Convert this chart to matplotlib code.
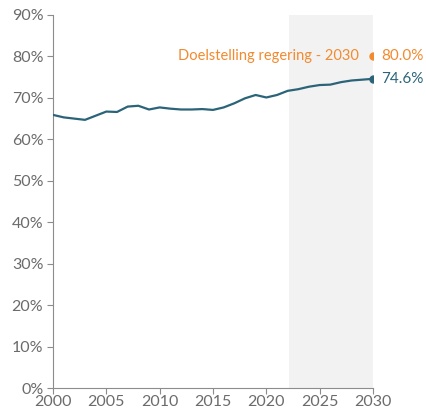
import matplotlib
matplotlib.use("Agg")
import matplotlib.pyplot as plt
from matplotlib.ticker import PercentFormatter

years = list(range(2000, 2031))
rate = [65.9, 65.3, 65.0, 64.7, 65.7, 66.7, 66.6, 67.9, 68.1, 67.2,
        67.7, 67.4, 67.2, 67.2, 67.3, 67.1, 67.7, 68.7, 69.9, 70.7,
        70.1, 70.7, 71.7, 72.1, 72.7, 73.1, 73.2, 73.8, 74.2, 74.4, 74.6]
target_year = 2030
target_value = 80.0
target_label = "Doelstelling regering - 2030"
forecast_start = 2022.1

LINE = "#2b6479"
ORANGE = "#f28a2e"
GREY = "#6b6b6b"

plt.rcParams["font.family"] = ["Lato", "DejaVu Sans"]

fig = plt.figure(figsize=(4.26, 4.12), dpi=100)
ax = fig.add_axes([53 / 426, 24 / 412, 320 / 426, 373 / 412])

ax.axvspan(forecast_start, 2030, color="#f2f2f2", lw=0, zorder=0)
ax.plot(years, rate, color=LINE, lw=1.6, zorder=3)
ax.plot(years[-1], rate[-1], "o", color=LINE, ms=5, zorder=4)
ax.plot(target_year, target_value, "o", color=ORANGE, ms=5, zorder=4)

ax.text(target_year + 0.8, rate[-1], f"{rate[-1]:.1f}%", color=LINE,
        fontsize=11, va="center", ha="left", clip_on=False)
ax.text(target_year + 0.8, target_value, f"{target_value:.1f}%", color=ORANGE,
        fontsize=11, va="center", ha="left", clip_on=False)
ax.text(target_year - 1.3, target_value, target_label, color=ORANGE,
        fontsize=10.5, va="center", ha="right")

ax.set_xlim(2000, 2030)
ax.set_ylim(0, 90)
ax.set_xticks(range(2000, 2031, 5))
ax.set_yticks(range(0, 91, 10))
ax.yaxis.set_major_formatter(PercentFormatter(decimals=0))

for side in ("top", "right"):
    ax.spines[side].set_visible(False)
for side in ("left", "bottom"):
    ax.spines[side].set_color("#8c8c8c")
ax.tick_params(colors="#8c8c8c", labelcolor=GREY, labelsize=11.5,
               length=4, direction="out")
ax.tick_params(axis="x", pad=1)
ax.tick_params(axis="y", pad=3)

fig.savefig("out.png", dpi=100)
